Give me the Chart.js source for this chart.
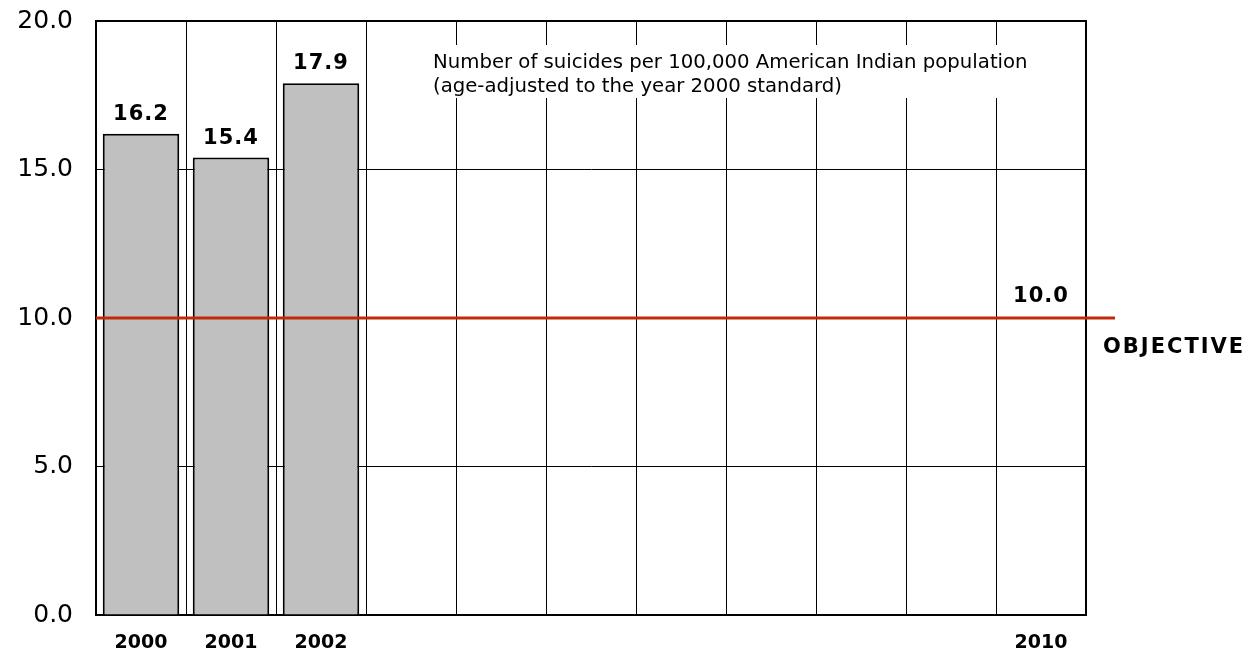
<!DOCTYPE html>
<html>
<head>
<meta charset="utf-8">
<script src="https://cdn.jsdelivr.net/npm/chart.js@4"></script>
<style>
  html, body { margin: 0; padding: 0; background: #fff; }
  #wrap { width: 1254px; height: 654px; }
</style>
</head>
<body>
<div id="wrap"><canvas id="suicideChart" width="1254" height="654"></canvas></div>
<script>
const years = ['2000', '2001', '2002', '2003', '2004', '2005', '2006', '2007', '2008', '2009', '2010'];
const shownYears = ['2000', '2001', '2002', '2010'];
const rates = [16.2, 15.4, 17.9, null, null, null, null, null, null, null, null];
const objective = 10.0;
const yTicks = [0, 5, 10, 15, 20];
const noteLines = ['Number of suicides per 100,000 American Indian population',
                   '(age-adjusted to the year 2000 standard)'];

const FONT = '"DejaVu Sans", Verdana, sans-serif';

// white note box over the grid, top of the plot
const notePlugin = {
  id: 'note',
  beforeDatasetsDraw(chart) {
    const ctx = chart.ctx;
    const area = chart.chartArea;
    ctx.save();
    // heavier frame on top and right, like the original
    ctx.strokeStyle = '#000';
    ctx.lineWidth = 2;
    ctx.strokeRect(area.left, area.top, area.right - area.left, area.bottom - area.top);

    ctx.font = '19.7px ' + FONT;
    const w = Math.max(...noteLines.map(l => ctx.measureText(l).width));
    ctx.fillStyle = '#fff';
    ctx.fillRect(425, 45, w + 16, 53);
    ctx.fillStyle = '#000';
    ctx.textBaseline = 'alphabetic';
    ctx.textAlign = 'left';
    ctx.fillText(noteLines[0], 433, 68);
    ctx.fillText(noteLines[1], 433, 92);
    ctx.restore();
  }
};

// bar values, objective line and its labels
const labelPlugin = {
  id: 'labels',
  afterDatasetsDraw(chart) {
    const ctx = chart.ctx;
    const x = chart.scales.x, y = chart.scales.y;
    const area = chart.chartArea;
    ctx.save();
    ctx.fillStyle = '#000';
    ctx.font = 'bold 21px ' + FONT;
    ctx.letterSpacing = '1px';
    ctx.textAlign = 'center';
    ctx.textBaseline = 'bottom';
    chart.getDatasetMeta(0).data.forEach((bar, i) => {
      if (rates[i] == null) return;
      ctx.fillText(rates[i].toFixed(1), bar.x, bar.y - 9);
    });

    const yo = y.getPixelForValue(objective);
    ctx.strokeStyle = '#c4280c';
    ctx.lineWidth = 3;
    ctx.beginPath();
    ctx.moveTo(area.left, yo);
    ctx.lineTo(area.right + 29, yo);
    ctx.stroke();

    ctx.fillText(objective.toFixed(1), x.getPixelForValue(10), yo - 11);
    ctx.font = 'bold 21px ' + FONT;
    ctx.letterSpacing = '2px';
    ctx.textAlign = 'left';
    ctx.textBaseline = 'middle';
    ctx.fillText('OBJECTIVE', area.right + 17, yo + 30);
    ctx.restore();
  }
};

new Chart(document.getElementById('suicideChart').getContext('2d'), {
  type: 'bar',
  data: {
    labels: years,
    datasets: [{
      data: rates,
      backgroundColor: '#c0c0c0',
      borderColor: '#000',
      borderWidth: 2,
      categoryPercentage: 1.0,
      barPercentage: 0.85
    }]
  },
  options: {
    responsive: false,
    animation: false,
    layout: { padding: { top: 21, right: 168, left: 0, bottom: 0 } },
    plugins: { legend: { display: false }, tooltip: { enabled: false } },
    scales: {
      x: {
        grid: { color: '#000', lineWidth: 1, drawTicks: false, offset: true },
        border: { color: '#000', width: 2 },
        ticks: {
          padding: 17,
          color: '#000',
          font: { family: FONT, size: 19, weight: 'bold' },
          maxRotation: 0,
          autoSkip: false,
          callback: function (v) {
            const lbl = this.getLabelForValue(v);
            return shownYears.includes(lbl) ? lbl : '';
          }
        },
        afterFit(scale) {
          scale.height = 39;
          scale.paddingLeft = 0;
          scale.paddingRight = 0;
        }
      },
      y: {
        min: 0,
        max: 20,
        afterBuildTicks(scale) { scale.ticks = yTicks.map(v => ({ value: v })); },
        grid: { color: '#000', lineWidth: 1, drawTicks: false },
        border: { color: '#000', width: 2 },
        ticks: {
          padding: 23,
          color: '#000',
          font: { family: FONT, size: 25 },
          callback: v => v.toFixed(1)
        },
        afterFit(scale) {
          scale.width = 96;
          scale.paddingTop = 0;
          scale.paddingBottom = 0;
        }
      }
    }
  },
  plugins: [notePlugin, labelPlugin]
});
</script>
</body>
</html>
